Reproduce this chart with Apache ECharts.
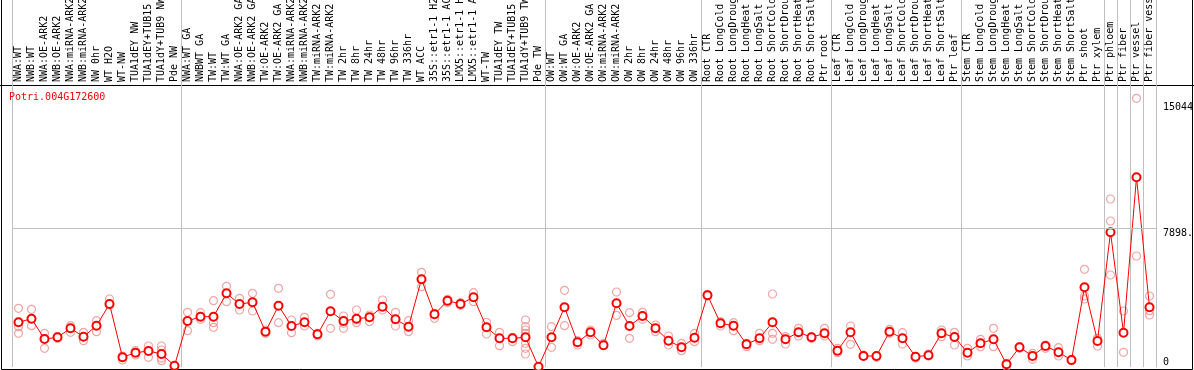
<!DOCTYPE html>
<html>
<head>
<meta charset="utf-8">
<script src="https://cdn.jsdelivr.net/npm/echarts@6/dist/echarts.min.js"></script>
<style>
  html, body { margin: 0; padding: 0; background: #fff; }
  #chart { width: 1194px; height: 370px; }
</style>
</head>
<body>
<div id="chart"></div>
<script>
// muestras, en el orden del eje X
const categories = [
  'NWA:WT', 'NWB:WT', 'NWA:OE-ARK2', 'NWB:OE-ARK2', 'NWA:miRNA-ARK2', 'NWB:miRNA-ARK2',
  'NW 0hr', 'WT H2O', 'WT-NW', 'TUA1dEY NW', 'TUA1dEY+TUB15 NW', 'TUA1dY+TUB9 NW', 'Pde NW',
  'NWA:WT GA', 'NWBWT GA', 'TW:WT', 'TW:WT GA', 'NWA:OE-ARK2 GA', 'NWB:OE-ARK2 GA',
  'TW:OE-ARK2', 'TW:OE-ARK2 GA', 'NWA:miRNA-ARK2', 'NWB:miRNA-ARK2', 'TW:miRNA-ARK2', 'TW:miRNA-ARK2',
  'TW 2hr', 'TW 8hr', 'TW 24hr', 'TW 48hr', 'TW 96hr', 'TW 336hr', 'WT ACC',
  '35S::etr1-1 H2O', '35S::etr1-1 ACC', 'LMX5::etr1-1 H2O', 'LMX5::etr1-1 ACC',
  'WT-TW', 'TUA1dEY TW', 'TUA1dEY+TUB15 TW', 'TUA1dY+TUB9 TW', 'Pde TW',
  'OW:WT', 'OW:WT GA', 'OW:OE-ARK2', 'OW:OE-ARK2 GA', 'OW:miRNA-ARK2', 'OW:miRNA-ARK2',
  'OW 2hr', 'OW 8hr', 'OW 24hr', 'OW 48hr', 'OW 96hr', 'OW 336hr',
  'Root CTR', 'Root LongCold', 'Root LongDrought', 'Root LongHeat', 'Root LongSalt',
  'Root ShortCold', 'Root ShortDrought', 'Root ShortHeat', 'Root ShortSalt', 'Ptr root',
  'Leaf CTR', 'Leaf LongCold', 'Leaf LongDrought', 'Leaf LongHeat', 'Leaf LongSalt',
  'Leaf ShortCold', 'Leaf ShortDrought', 'Leaf ShortHeat', 'Leaf ShortSalt', 'Ptr leaf',
  'Stem CTR', 'Stem LongCold', 'Stem LongDrought', 'Stem LongHeat', 'Stem LongSalt',
  'Stem ShortCold', 'Stem ShortDrought', 'Stem ShortHeat', 'Stem ShortSalt', 'Ptr shoot', 'Ptr xylem',
  'Ptr phloem', 'Ptr fiber', 'Ptr vessel', 'Ptr fiber vessel'
];

// indice donde empieza cada bloque (lineas verticales grises)
const groupStarts = [0, 13, 41, 53, 63, 73, 84, 85, 86, 87, 88];

// media por muestra
const means = [
  2545, 2750, 1594, 1691, 2204, 1725, 2352, 3587, 552, 814, 911, 740, 74,
  2619, 2864, 2864, 4196, 3587, 3684, 2010, 3490, 2335, 2545, 1862, 3172, 2619, 2750, 2830,
  3433, 2716, 2295, 4994, 3001, 3775, 3587, 3969, 2260, 1634, 1634, 1691, 17,
  1691, 3399, 1406, 1976, 1236, 3627, 2335, 2904, 2204, 1498, 1122, 1668,
  4083, 2488, 2352, 1293, 1634, 2545, 1577, 1976, 1691, 1919,
  928, 1976, 626, 626, 2010, 1634, 586, 666, 1919, 1708,
  814, 1349, 1577, 154, 1122, 626, 1196, 837, 399, 4538, 1480,
  7670, 1953, 10802, 3399
];

// replicas por muestra
const replicates = [
  [3342, 2295, 1919], [3285, 2750, 2352], [1919, 1634, 1065], [1725, 1634], [2352, 1976, 2204],
  [1976, 1498, 1725], [2636, 2010, 2352], [3872, 3530, 3587], [626, 399, 552], [928, 683],
  [1196, 552, 911], [1196, 968, 740, 500, 359], [74, 17],
  [3115, 2067], [3092, 2716, 2864], [3775, 2522, 2260], [4595, 3718], [3912, 3246], [4196, 3189],
  [2107, 1919], [4481, 2522], [2676, 1953], [2830, 2335], [1862, 1919, 1765], [4139, 2204],
  [2904, 2204, 2488], [3246, 2522, 2676], [2961, 2579], [3815, 3246], [3115, 2335], [2636, 2010],
  [5392, 4572], [3058, 2773], [3855, 3661], [3661, 3513], [4231, 3718], [2545, 1879], [1976, 1213],
  [1691, 1441], [2676, 2295, 2107, 1919, 1349, 1065, 740], [17],
  [2295, 1122], [4367, 2352], [1498, 1253], [2107, 1822], [1236, 1349], [4271, 2944], [3092, 1634],
  [3115, 2716], [2391, 2010], [1765, 1253], [1349, 928], [1919, 1441],
  [4139, 4043], [2335, 2579], [2522, 2067], [1156, 1349], [1919, 1498], [4157, 1919, 1577],
  [1725, 1310], [2204, 1765], [1725, 1634], [2204, 1765],
  [1065, 814], [2335, 1293], [626, 683], [626, 552], [2147, 1919], [1953, 1310], [586, 510],
  [740, 626], [2107, 1725], [1976, 1253],
  [1065, 626], [1577, 1156], [2204, 1156], [40, 211], [1156, 1065], [780, 438], [1253, 1065],
  [1101, 626], [438, 359], [5563, 4043, 3872], [1634, 1196],
  [9566, 8313, 5238], [3189, 837], [15300, 6320], [4043, 3206, 2961]
];

const geneName = 'Potri.004G172600';
const midValue = 7898;
const yLabelValues = [0, 7898, 15044];
const yLabelTexts = ['0', '7898.', '15044'];
const yMax = 20897;

const FONT = 'DejaVu Sans Mono';

const repData = [];
replicates.forEach((vals, i) => vals.forEach(v => repData.push([i, v])));

const chart = echarts.init(document.getElementById('chart'));

chart.setOption({
  animation: false,
  title: {
    text: geneName,
    left: 9,
    top: 92,
    padding: 0,
    textStyle: { color: '#ff0000', fontSize: 10, fontWeight: 'normal', fontFamily: FONT }
  },
  grid: { left: 12, right: 38, top: 0, bottom: 3, outerBoundsMode: 'none', containLabel: false },
  xAxis: {
    type: 'category',
    data: categories,
    position: 'top',
    offset: -85,
    axisLine: { show: false },
    axisTick: { show: false },
    axisLabel: {
      rotate: 90,
      interval: 0,
      margin: 3,
      color: '#000',
      fontSize: 10,
      fontFamily: FONT
    },
    splitLine: {
      show: true,
      interval: (index) => groupStarts.includes(index),
      lineStyle: { color: '#c0c0c0', width: 1 }
    }
  },
  yAxis: {
    type: 'value',
    position: 'right',
    min: 0,
    max: yMax,
    axisLine: { show: true, lineStyle: { color: '#c0c0c0' } },
    axisTick: { show: false },
    splitLine: { show: false },
    axisLabel: {
      customValues: yLabelValues,
      margin: 7,
      color: '#000',
      fontSize: 10,
      lineHeight: 10,
      fontFamily: FONT,
      formatter: (v) => {
        const t = yLabelTexts[yLabelValues.indexOf(v)];
        return v === 0 ? t + '\n ' : ' \n' + t;
      }
    }
  },
  graphic: [
    {
      type: 'polyline',
      silent: true,
      shape: { points: [[1.5, -2], [1.5, 369.5], [1192.5, 369.5], [1192.5, -2]] },
      style: { stroke: '#000', lineWidth: 1, fill: null }
    },
    {
      type: 'line',
      silent: true,
      shape: { x1: 0, y1: 85.5, x2: 1194, y2: 85.5 },
      style: { stroke: '#000', lineWidth: 1 }
    }
  ],
  series: [
    {
      name: 'replicas',
      type: 'scatter',
      data: repData,
      symbol: 'circle',
      symbolSize: 8,
      clip: false,
      z: 2,
      itemStyle: { color: 'rgba(0,0,0,0)', borderColor: '#ee9090', borderWidth: 1.2 }
    },
    {
      name: 'media',
      type: 'line',
      data: means,
      symbol: 'emptyCircle',
      symbolSize: 8,
      clip: false,
      z: 3,
      lineStyle: { color: '#ff0000', width: 1 },
      itemStyle: { color: '#ff0000', borderColor: '#ff0000', borderWidth: 1.5 },
      markLine: {
        silent: true,
        symbol: 'none',
        label: { show: false },
        lineStyle: { color: '#c0c0c0', type: 'solid', width: 1 },
        data: [{ yAxis: midValue }]
      }
    }
  ]
});
</script>
</body>
</html>
